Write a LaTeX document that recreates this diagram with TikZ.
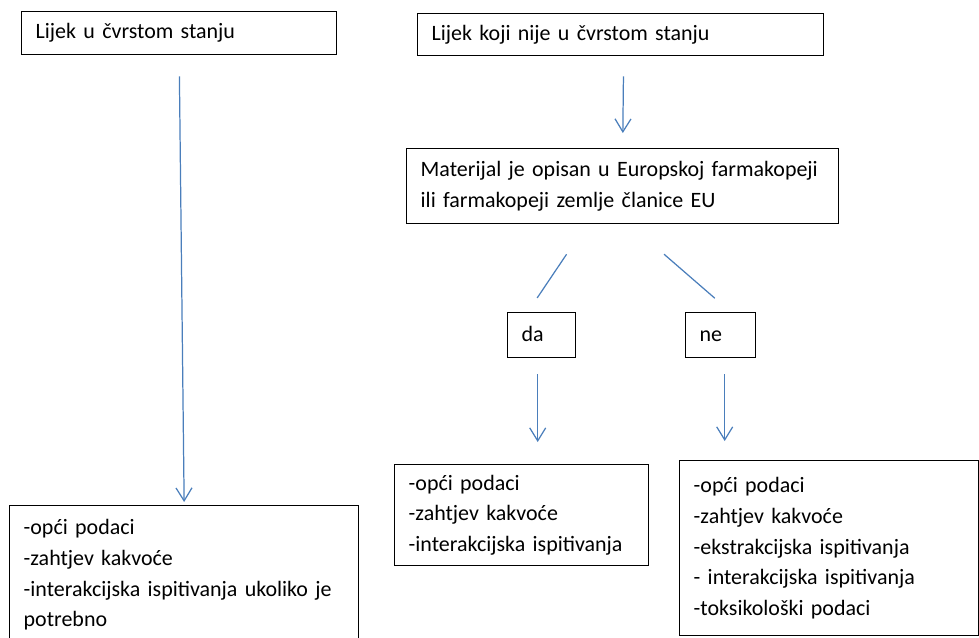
\documentclass[tikz,border=0pt]{standalone}
\usepackage{fontspec}
\setmainfont{Carlito}
\usetikzlibrary{arrows.meta}
\definecolor{arrowblue}{RGB}{74,126,187}

\begin{document}
\begin{tikzpicture}[x=0.02cm,y=-0.02cm,
   box/.style={draw=black,line width=0.8pt,anchor=north west,align=left,
     inner xsep=0.28cm,inner ysep=0pt,font=\fontsize{12.5}{17.6}\selectfont},
   arrow/.style={draw=arrowblue,line width=0.7pt,-{Straight Barb[length=0.26cm,width=0.32cm]}},
   link/.style={draw=arrowblue,line width=0.7pt}]
   \useasboundingbox (0,0) rectangle (979,637);
   % top boxes
   \node[box,text width=5.74cm,minimum height=0.86cm] (solid) at (21,11) {Lijek u čvrstom stanju};
   \node[box,text width=7.56cm,minimum height=0.84cm] (notsolid) at (417,13) {Lijek koji nije u čvrstom stanju};
   \node[box,text width=8.08cm,minimum height=1.5cm] (material) at (406,148)
      {Materijal je opisan u Europskoj farmakopeji\\ili farmakopeji zemlje članice EU};
   % decision
   \node[box,text width=0.8cm,minimum height=0.9cm] (da) at (507,312) {da\strut};
   \node[box,text width=0.84cm,minimum height=0.9cm] (ne) at (685,312) {ne\strut};
   % result boxes
   \node[box,text width=6.42cm,minimum height=2.76cm] (solidList) at (9,505)
      {-opći podaci\\-zahtjev kakvoće\\-interakcijska ispitivanja ukoliko je\\potrebno};
   \node[box,text width=4.52cm,minimum height=2.02cm] (daList) at (394,464)
      {-opći podaci\\-zahtjev kakvoće\\-interakcijska ispitivanja};
   \node[box,text width=5.42cm,minimum height=3.5cm] (neList) at (679,460)
      {-opći podaci\\-zahtjev kakvoće\\-ekstrakcijska ispitivanja\\- interakcijska ispitivanja\\-toksikološki podaci};
   % connectors
   \draw[arrow,shorten <=0.42cm,shorten >=0.06cm] (solid.south) -- (solidList.north);
   \draw[arrow,shorten <=0.4cm,shorten >=0.3cm] ([xshift=0.06cm]notsolid.south) -- (material.north);
   \draw[link,shorten <=0.72cm,shorten >=0.34cm] ([xshift=-0.72cm]material.south) -- ([xshift=-0.28cm]da.north);
   \draw[link,shorten <=0.91cm,shorten >=0.42cm] ([xshift=0.14cm]material.south) -- ([xshift=0.2cm]ne.north);
   \draw[arrow,shorten <=0.32cm,shorten >=0.44cm] ([xshift=-0.08cm]da.south) -- ([xshift=-0.08cm]da.south |- daList.north);
   \draw[arrow,shorten <=0.32cm,shorten >=0.38cm] ([xshift=0.08cm]ne.south) -- ([xshift=0.08cm]ne.south |- neList.north);
\end{tikzpicture}
\end{document}
